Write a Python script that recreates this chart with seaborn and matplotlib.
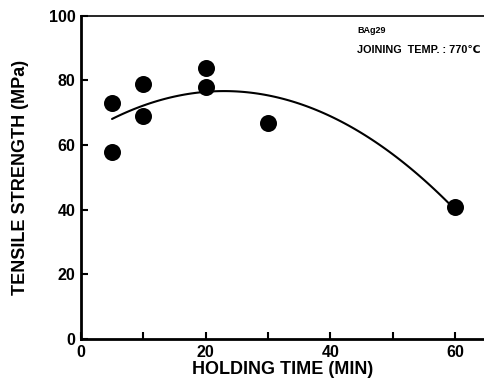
import numpy as np
import pandas as pd
import seaborn as sns
import matplotlib.pyplot as plt
from matplotlib.ticker import MultipleLocator

# holding time (min) vs tensile strength (MPa)
holding_time = [5, 5, 10, 10, 20, 20, 30, 60]
tensile_strength = [73, 58, 79, 69, 84, 78, 67, 41]

df = pd.DataFrame({'time': holding_time, 'strength': tensile_strength})

sns.set_style('ticks')
plt.rcParams['font.family'] = ['Liberation Sans', 'DejaVu Sans']
plt.rcParams['font.weight'] = 'bold'
for k in ['text.color', 'axes.labelcolor', 'xtick.color', 'ytick.color', 'axes.edgecolor']:
    plt.rcParams[k] = 'black'

fig = plt.figure(figsize=(4.84, 3.87), dpi=100)
ax = fig.add_axes([0.167, 0.124, 0.833, 0.835])

# fitted curve (2nd order)
sns.regplot(data=df, x='time', y='strength', order=2, ci=None, truncate=True,
            scatter=False, ax=ax, line_kws={'color': 'black', 'lw': 1.5})
sns.scatterplot(data=df, x='time', y='strength', ax=ax, color='black',
                s=150, edgecolor='black', linewidth=0, zorder=5, clip_on=False)

ax.set_xlim(0, 64.6)
ax.set_ylim(0, 100)
ax.xaxis.set_major_locator(MultipleLocator(20))
ax.xaxis.set_minor_locator(MultipleLocator(10))
ax.yaxis.set_major_locator(MultipleLocator(20))
ax.tick_params(which='both', direction='in', length=5, width=1.5,
               labelsize=11.5, pad=4, colors='black')
for lab in ax.get_xticklabels() + ax.get_yticklabels():
    lab.set_fontweight('bold')

ax.spines['left'].set_linewidth(2)
ax.spines['bottom'].set_linewidth(2)
ax.spines['top'].set_linewidth(1.2)
ax.spines['right'].set_linewidth(0.6)
ax.spines['right'].set_color('#999999')

ax.set_xlabel('HOLDING TIME (MIN)', fontsize=13, fontweight='bold', labelpad=1)
ax.set_ylabel('TENSILE STRENGTH (MPa)', fontsize=13, fontweight='bold', labelpad=14)

ax.text(44.3, 95.5, 'BAg29', fontsize=6.5, fontweight='bold', va='center')
ax.text(44.3, 89.5, 'JOINING  TEMP. : 770℃', fontsize=7.8, fontweight='bold',
        va='center', clip_on=False)

fig.savefig('out.png', dpi=100)
